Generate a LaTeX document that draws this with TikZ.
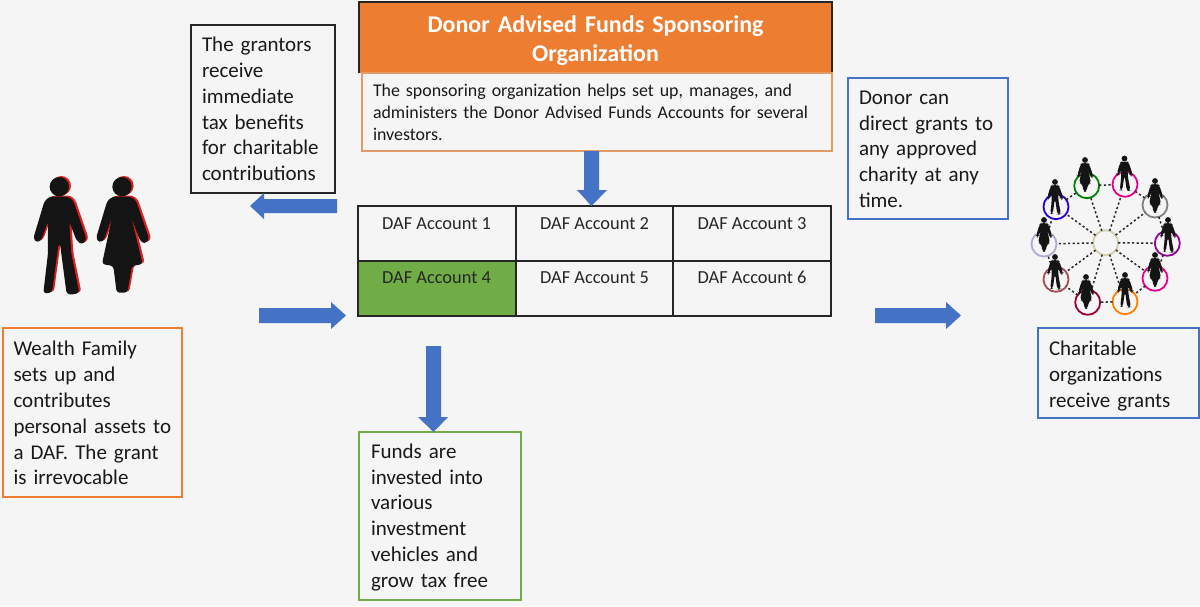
\documentclass[tikz,border=0pt]{standalone}
\usepackage{fontspec}
\setmainfont{Carlito}
\definecolor{bgc}{HTML}{F5F5F5}
\definecolor{orangeF}{HTML}{ED7D31}
\definecolor{orangeL}{HTML}{E39A66}
\definecolor{blueA}{HTML}{4472C4}
\definecolor{greenA}{HTML}{70AD47}
\definecolor{redS}{HTML}{E0201C}
\tikzset{
  x=1pt,y=-1pt,
  textbox/.style={draw=#1,line width=1.6pt,fill=none,outer sep=0pt,inner sep=0pt,align=left,font=\fontsize{21}{25.8}\selectfont,text=black!90},
  down/.style={execute at begin node={\leavevmode\rule{0pt}{#1pt}\ignorespaces}},
  celltext/.style={font=\fontsize{18.4}{21}\selectfont,text=black!85,inner sep=0pt},
  cellbox/.style={draw=black!85,line width=1.5pt},
  bluearrow/.style={fill=blueA,draw=none},
  hubdash/.style={draw=black!85,line width=1.5pt,dash pattern=on 2.2pt off 2.4pt},
  ring/.style={circle,draw=#1,line width=1.8pt,minimum size=25pt,inner sep=0pt,outer sep=0pt},
}
\newcommand{\manpath}{(-28,30) -- (28,30) -- (42,42) -- (82,158) -- (68,174) -- (52,162) -- (30,105) -- (36,200) -- (60,318) -- (40,324) -- (22,322) -- (2,170) -- (-2,170) -- (-22,318) -- (-48,320) -- (-34,200) -- (-34,105) -- (-54,160) -- (-68,168) -- (-78,155) -- (-44,42) -- cycle}
\newcommand{\womanpath}{(-28,30) -- (28,30) -- (42,42) -- (82,158) -- (68,172) -- (54,162) -- (28,92) -- (62,232) -- (30,238) -- (16,318) -- (-16,318) -- (-26,238) -- (-60,232) -- (-30,92) -- (-54,160) -- (-68,168) -- (-78,155) -- (-44,42) -- cycle}
\newcommand{\drawman}[4]{\begin{scope}[shift={(#1,#2)},scale=#3]
 \ifx#4n\else
 \fill[#4,rounded corners=3pt,shift={(6,-3)}] \manpath; \fill[#4,shift={(6,-3)}] (0,0) circle (29);
 \fi
 \fill[black!92,rounded corners=3pt] \manpath; \fill[black!92] (0,0) circle (29);
\end{scope}}
\newcommand{\drawwoman}[4]{\begin{scope}[shift={(#1,#2)},scale=#3]
 \ifx#4n\else
 \fill[#4,rounded corners=3pt,shift={(6,-3)}] \womanpath; \fill[#4,shift={(6,-3)}] (0,0) circle (29);
 \fi
 \fill[black!92,rounded corners=3pt] \womanpath; \fill[black!92] (0,0) circle (29);
\end{scope}}
\begin{document}
\begin{tikzpicture}
\fill[bgc] (0,0) rectangle (1200,606);
\useasboundingbox (0,0) rectangle (1200,606);

% family
\drawman{59.3}{186.7}{0.3333}{redS}
\drawwoman{122}{186.7}{0.3333}{redS}

% sponsoring organization
\node[fill=orangeF,outer sep=0pt,inner sep=0pt,minimum width=473pt,minimum height=71pt,text width=470pt,align=center,text=white,font=\fontsize{24}{29}\selectfont\bfseries,down=23] (title) at (595.5,37.5) {Donor Advised Funds Sponsoring\\Organization};
\draw[black!85,line width=1.5pt] (title.south west) -- (title.north west) -- (title.north east) -- (title.south east);
\node[textbox=orangeL,minimum width=470pt,minimum height=78pt,text width=448pt,font=\fontsize{17.9}{22}\selectfont] (desc) at (597,112) {The sponsoring organization helps set up, manages, and\\administers the Donor Advised Funds Accounts for several\\investors.};

% boxes
\node[textbox=black!85,minimum width=144pt,minimum height=168pt,text width=122pt] (grantors) at (263,109) {The grantors\\receive\\immediate\\tax benefits\\for charitable\\contributions};
\node[textbox=blueA,minimum width=160pt,minimum height=141pt,text width=138pt,down=15] (donor) at (928,148.5) {Donor can\\direct grants to\\any approved\\charity at any\\time.};
\node[textbox=orangeF,minimum width=179pt,minimum height=169pt,text width=158pt,down=16] (wealth) at (92.5,412.5) {Wealth Family\\sets up and\\contributes\\personal assets to\\a DAF. The grant\\is irrevocable};
\node[textbox=blueA,minimum width=161pt,minimum height=90pt,text width=139pt,down=20] (charity) at (1118.5,373) {Charitable\\organizations\\receive grants};
\node[textbox=greenA,minimum width=162pt,minimum height=168pt,text width=138pt,down=17] (funds) at (440,516) {Funds are\\invested into\\various\\investment\\vehicles and\\grow tax free};

% table
\fill[greenA] (358,261) rectangle (516,316);
\draw[cellbox] (358,206) rectangle (831,316);
\draw[cellbox] (358,261) -- (831,261);
\draw[cellbox] (516,206) -- (516,316);
\draw[cellbox] (673,206) -- (673,316);
\node[celltext] (a1) at (436.5,224) {DAF Account 1};
\node[celltext] (a2) at (594.5,224) {DAF Account 2};
\node[celltext] (a3) at (752,224) {DAF Account 3};
\node[celltext] (a4) at (436.5,277.5) {DAF Account 4};
\node[celltext] (a5) at (594.5,277.5) {DAF Account 5};
\node[celltext] (a6) at (752,277.5) {DAF Account 6};

% block arrows
\fill[bluearrow] (584,151) -- (599,151) -- (599,190) -- (607,190) -- (591.5,206) -- (577,190) -- (584,190) -- cycle;
\fill[bluearrow] (337,199) -- (264,199) -- (264,193) -- (250,206) -- (264,219) -- (264,213) -- (337,213) -- cycle;
\fill[bluearrow] (259,308) -- (331,308) -- (331,302) -- (346,315.5) -- (331,329) -- (331,323) -- (259,323) -- cycle;
\fill[bluearrow] (875,308) -- (946,308) -- (946,302) -- (961,315.5) -- (946,329) -- (946,323) -- (875,323) -- cycle;
\fill[bluearrow] (426,346) -- (441,346) -- (441,417) -- (448,417) -- (433.5,432) -- (418,417) -- (426,417) -- cycle;

% network
\node[ring=green!50!black] (c1) at (1086.7,185.7) {};
\node[ring=magenta] (c2) at (1125,184.3) {};
\node[ring=gray] (c3) at (1155,205) {};
\node[ring=violet!80!magenta] (c4) at (1167.3,243.3) {};
\node[ring=magenta] (c5) at (1155,278.3) {};
\node[ring=orange] (c6) at (1125,301.7) {};
\node[ring=purple!80!black] (c7) at (1087.7,302.3) {};
\node[ring=brown!60!violet] (c8) at (1056,279.3) {};
\node[ring=blue!30!gray!50] (c9) at (1044,244) {};
\node[ring=blue!70!violet] (c10) at (1056,206.7) {};
\node[ring=orange!30!yellow!30!gray!50,fill=bgc] (hub) at (1105.7,242.7) {};
\foreach \i in {1,...,10} {\draw[hubdash] (hub) -- (c\i);}
\draw[hubdash] (c1) -- (c2); \draw[hubdash] (c2) -- (c3); \draw[hubdash] (c3) -- (c4);
\draw[hubdash] (c4) -- (c5); \draw[hubdash] (c5) -- (c6); \draw[hubdash] (c6) -- (c7);
\draw[hubdash] (c7) -- (c8); \draw[hubdash] (c8) -- (c9); \draw[hubdash] (c9) -- (c10);
\draw[hubdash] (c10) -- (c1);
\drawwoman{1085}{160}{0.1}{n}
\drawman{1124.5}{158.5}{0.1}{n}
\drawwoman{1155}{181}{0.1}{n}
\drawman{1168}{220}{0.1}{n}
\drawwoman{1155}{255}{0.1}{n}
\drawman{1125}{275}{0.1}{n}
\drawwoman{1086}{277}{0.1}{n}
\drawman{1055}{257}{0.1}{n}
\drawwoman{1044}{220}{0.1}{n}
\drawman{1055}{182}{0.1}{n}
\end{tikzpicture}
\end{document}
